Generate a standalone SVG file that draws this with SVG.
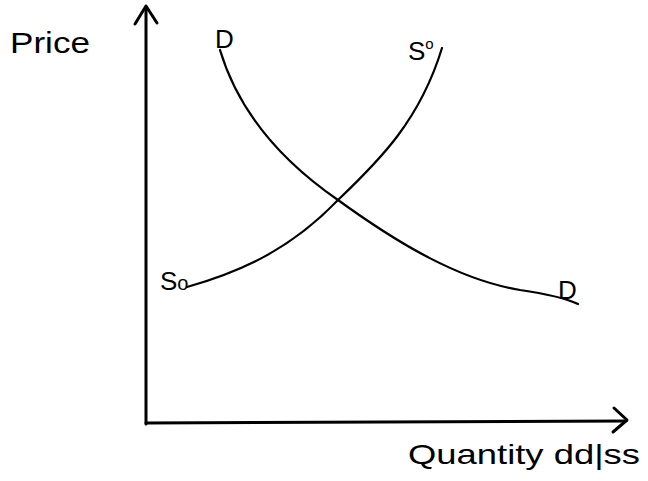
<svg xmlns="http://www.w3.org/2000/svg" width="648" height="481" viewBox="0 0 648 481">
<style>
.ax{fill:none;stroke:#000;stroke-width:3;stroke-linecap:round;stroke-linejoin:round}
.cv{fill:none;stroke:#000;stroke-width:2.2;stroke-linecap:round}
.lbl{font-family:"Liberation Sans",Arial,sans-serif;fill:#000}
</style>
<rect width="648" height="481" fill="#fff"/>
<g id="connectors">
<path id="y-axis" class="ax" d="M146,424 L146,8"/>
<path class="ax" d="M135,24 L146,6 L157,23"/>
<path id="x-axis" class="ax" d="M146,423 L626,421"/>
<path class="ax" d="M614,408 L627,420 L613,432"/>
<path id="demand" class="cv" d="M220,50 C238,110 280,160 338,200 C400,245 460,280 520,290 C548,294 565,298 578,304"/>
<path id="supply" class="cv" d="M187,287 C240,272 290,250 338,200 C380,160 420,120 442,48"/>
</g>
<g id="price-label"><text class="lbl" x="10" y="53" font-size="30" textLength="80" lengthAdjust="spacingAndGlyphs">Price</text></g>
<g id="quantity-label"><text class="lbl" x="408" y="464" font-size="28" textLength="232" lengthAdjust="spacingAndGlyphs">Quantity dd|ss</text></g>
<g id="d-top"><text class="lbl" x="215" y="48" font-size="26">D</text></g>
<g id="d-bottom"><text class="lbl" x="558" y="299" font-size="26">D</text></g>
<g id="s-top"><text class="lbl" x="408" y="60" font-size="26">S<tspan font-size="15" dy="-11">o</tspan></text></g>
<g id="s-bottom"><text class="lbl" x="160" y="290" font-size="26">S<tspan font-size="20">o</tspan></text></g>
</svg>
